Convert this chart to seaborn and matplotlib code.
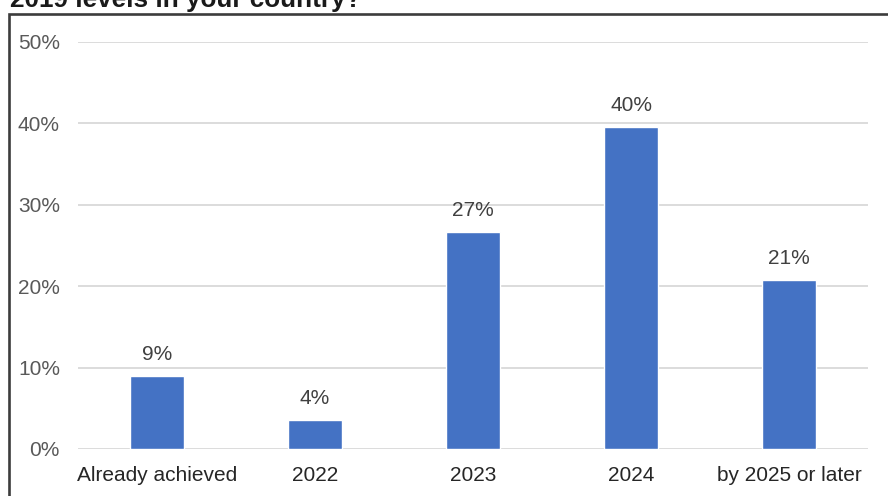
import matplotlib
matplotlib.use('Agg')
import matplotlib.pyplot as plt
import matplotlib.patches as mpatches
import seaborn as sns
import pandas as pd

# Chart data
categories = ['Already achieved', '2022', '2023', '2024', 'by 2025 or later']
shares = [9.0, 3.6, 26.7, 39.5, 20.8]
y_ticks = [0, 10, 20, 30, 40, 50]

df = pd.DataFrame({'category': categories, 'share': shares})

sns.set_style('white')
plt.rcParams['font.family'] = ['Liberation Sans', 'DejaVu Sans']

fig = plt.figure(figsize=(8.88, 4.96), dpi=100)
ax = fig.add_axes([78 / 888, 47 / 496, 790 / 888, 407.3 / 496])

# Bars
sns.barplot(data=df, x='category', y='share', color='#4472C4',
            width=0.34, saturation=1, ax=ax)

ax.set_ylim(0, 50)
ax.set_xlim(-0.5, len(categories) - 0.5)
ax.set_yticks(y_ticks)
ax.set_yticklabels([f'{t}%' for t in y_ticks])
ax.set_xlabel('')
ax.set_ylabel('')

# Gridlines and styling
ax.yaxis.grid(True, color='#D9D9D9', linewidth=1.3)
ax.set_axisbelow(True)
for s in ax.spines.values():
    s.set_visible(False)
ax.tick_params(axis='y', length=0, pad=13, labelsize=15, labelcolor='#595959')
ax.tick_params(axis='x', length=0, pad=12, labelsize=15, labelcolor='#262626')

# Data labels
ax.bar_label(ax.containers[0], labels=[f'{v:.0f}%' for v in shares],
             padding=8.5, fontsize=15, color='#404040')

# Frame around the chart (runs off the right and bottom edges)
frame = mpatches.Rectangle((9 / 888, -0.1), 1.2, (496 - 13.5) / 496 + 0.1,
                           transform=fig.transFigure, fill=False,
                           edgecolor='#3C3C3C', linewidth=1.9, zorder=10)
fig.patches.append(frame)

# Partially cut-off title
fig.text(10 / 888, 1 - 7 / 496, '2019 levels in your country?',
         fontsize=18.8, fontweight='bold', color='#1A1A1A',
         ha='left', va='baseline')

fig.savefig('out.png', dpi=100)
